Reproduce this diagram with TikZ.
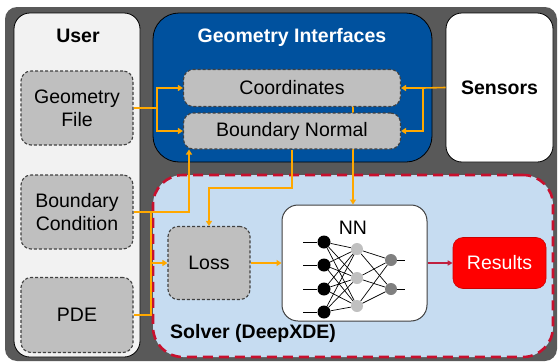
\documentclass[tikz,border=0pt]{standalone}
\usepackage{fontspec}
\setmainfont{Liberation Sans}
\usetikzlibrary{arrows.meta,calc}
\pgfdeclarelayer{panels}
\pgfdeclarelayer{under}
\pgfsetlayers{panels,under,main}

\definecolor{framegray}{HTML}{595959}
\definecolor{userfill}{HTML}{F2F2F2}
\definecolor{geoblue}{HTML}{00519E}
\definecolor{boxgray}{HTML}{BFBFBF}
\definecolor{boxline}{HTML}{404040}
\definecolor{solverfill}{HTML}{C6DCF1}
\definecolor{solverred}{HTML}{C8102E}
\definecolor{flow}{HTML}{FFA800}
\definecolor{resred}{HTML}{FF0000}
\definecolor{linkred}{HTML}{C0203F}
\definecolor{hidgray}{HTML}{C0C0C0}
\definecolor{outgray}{HTML}{808080}

\tikzset{
  txt/.style={font=\fontsize{19.5}{23}\selectfont, align=center, inner sep=0pt},
  btxt/.style={txt, font=\fontsize{19.5}{23}\selectfont\bfseries},
  panel/.style={draw=black, line width=0.8pt, inner sep=0pt},
  gbox/.style={txt, draw=boxline, fill=boxgray, dashed, dash pattern=on 3pt off 2pt,
               line width=1.1pt, rounded corners=10pt},
  flowarrow/.style={draw=flow, line width=1.6pt, -{Triangle[length=5pt,width=6pt]}},
  flowline/.style={draw=flow, line width=1.6pt},
  neuron/.style={circle, inner sep=0pt, minimum size=12pt},
  synapse/.style={draw=black, line width=0.7pt},
}

\begin{document}
\begin{tikzpicture}[x=1pt,y=-1pt]
\useasboundingbox (0,0) rectangle (558,362);

% ---- panels ----
\begin{pgfonlayer}{panels}
  \fill[framegray, rounded corners=12pt] (5,7) rectangle (557,361);
  \node[panel, fill=userfill, rounded corners=16pt, minimum width=126pt, minimum height=344pt]
    (user) at (77,185) {};
  \node[panel, fill=geoblue, rounded corners=26pt, minimum width=279pt, minimum height=149pt]
    (geo) at (292.5,87.5) {};
  \node[panel, fill=white, rounded corners=16pt, minimum width=107pt, minimum height=149pt]
    (sensors) at (499.5,87.5) {};
  \node[fill=solverfill, draw=solverred, line width=2.6pt, dash pattern=on 10pt off 6pt,
        rounded corners=30pt, minimum width=400pt, minimum height=182pt, inner sep=0pt]
    (solver) at (353,266) {};
\end{pgfonlayer}

% ---- panel titles ----
\node[btxt] at (78,36) {User};
\node[btxt, text=white] at (292,37) {Geometry Interfaces};
\node[btxt] at (499.5,88) {Sensors};
\node[btxt, anchor=west] at (170,333) {Solver (DeepXDE)};

% ---- user inputs ----
\node[gbox, minimum width=112pt, minimum height=74pt] (gf)  at (77,108) {Geometry\\File};
\node[gbox, minimum width=112pt, minimum height=74pt] (bc)  at (77,212) {Boundary\\Condition};
\node[gbox, minimum width=112pt, minimum height=75pt] (pde) at (77,315) {PDE};

% ---- geometry interfaces ----
\node[gbox, minimum width=217pt, minimum height=37pt] (coord) at (292,88)  {Coordinates};
\node[gbox, minimum width=217pt, minimum height=36pt] (bn)    at (292,131) {Boundary Normal};

% ---- solver ----
\node[gbox, minimum width=82pt, minimum height=73pt] (loss) at (209,263) {Loss};
\node[draw=boxline, fill=white, line width=1pt, rounded corners=16pt,
      minimum width=145pt, minimum height=116pt, inner sep=0pt] (nn) at (354.5,263) {};
\node[txt] at (353,228) {NN};
\node[txt, text=white, fill=resred, draw=resred!80!black, line width=0.6pt, rounded corners=10pt,
      minimum width=93pt, minimum height=51pt] (res) at (499.5,263) {Results};

% ---- network sketch ----
\foreach \i/\y in {1/242,2/265,3/289,4/312}
  \node[neuron, fill=black, minimum size=13pt] (a\i) at (324,\y) {};
\foreach \i/\y in {1/249,2/278,3/306}
  \node[neuron, fill=hidgray] (b\i) at (357,\y) {};
\foreach \i/\y in {1/260,2/289}
  \node[neuron, fill=outgray] (c\i) at (391,\y) {};
\foreach \i in {1,...,4}{
  \coordinate (in\i) at ($(a\i.center)+(-21,0)$);
  \draw[synapse] (in\i) -- (a\i);
  \foreach \j in {1,2,3} \draw[synapse] (a\i) -- (b\j);
}
\foreach \j in {1,2,3}
  \foreach \k in {1,2} \draw[synapse] (b\j) -- (c\k);
\foreach \k in {1,2}{
  \coordinate (out\k) at ($(c\k.center)+(14,0)$);
  \draw[synapse] (c\k) -- (out\k);
}

% ---- data flow ----
% geometry file feeds both interfaces
\coordinate (jgf) at (157,108);
\draw[flowline] (gf.east) -- (jgf);
\draw[flowarrow] (jgf) |- (coord.west);
\draw[flowarrow] (jgf) |- (bn.west);

% sensors feed both interfaces
\coordinate (jsn) at (423,88);
\draw[flowline] (sensors.west) -- (jsn);
\draw[flowarrow] (jsn) -- (coord.east);
\draw[flowarrow] (jsn) |- (bn.east);

% boundary condition to boundary normal, and with the PDE into the loss
\coordinate (jbc) at (151,212);
\coordinate (bnin) at (189,149.5);
\draw[flowarrow] (bc.east) -| (bnin);
\draw[flowline] (pde.east) -| (jbc);
\draw[flowarrow] (loss.west -| jbc) -- (loss.west);

% coordinates pass behind the boundary normal box into the network
\coordinate (cout) at (353,106);
\coordinate (nnin) at (353,204.5);
\begin{pgfonlayer}{under}
  \draw[flowarrow] (cout) -- (nnin);
\end{pgfonlayer}

% boundary normal into the loss
\coordinate (bnturn) at (292,188);
\draw[flowarrow] (bn.south) -- (bnturn) -| (loss.north);

% loss into the network, network to results
\draw[flowarrow] (loss.east) -- (nn.west |- loss.east);
\draw[draw=linkred, line width=1.3pt, -{Triangle[length=5pt,width=5pt]}] (nn.east |- res.west) -- (res.west);
\end{tikzpicture}
\end{document}
